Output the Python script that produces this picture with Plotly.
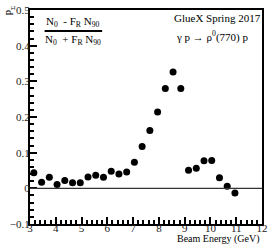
import plotly.graph_objects as go

beam_energy = [3.15, 3.45, 3.75, 4.05, 4.35, 4.65, 4.95, 5.25, 5.55, 5.85,
               6.15, 6.45, 6.75, 7.05, 7.35, 7.65, 7.95, 8.25, 8.55, 8.85,
               9.15, 9.45, 9.75, 10.05, 10.35, 10.65, 10.95]
p_sigma = [0.044, 0.017, 0.031, 0.011, 0.022, 0.016, 0.016, 0.032, 0.037, 0.031,
           0.048, 0.040, 0.046, 0.073, 0.117, 0.162, 0.214, 0.280, 0.326, 0.280,
           0.051, 0.056, 0.077, 0.078, 0.030, 0.006, -0.013]

FONT = "Liberation Serif"
W, H = 272, 244
L, R, T, B = 30, 4, 10, 20
pw, ph = W - L - R, H - T - B

def px(x):
    return (x - L) / pw

def py(y):
    return (H - B - y) / ph

fig = go.Figure()
fig.add_trace(go.Scatter(
    x=beam_energy, y=p_sigma, mode="markers",
    marker=dict(color="black", size=7),
    showlegend=False, cliponaxis=False,
))

fig.add_hline(y=0, line=dict(color="#333333", width=1.2))

axis_common = dict(
    showgrid=False, zeroline=False, showline=True, mirror=True,
    linecolor="black", linewidth=2, ticks="inside", tickcolor="black",
    tickwidth=1.5, tickfont=dict(family=FONT, size=11, color="#222"),
)

fig.update_xaxes(range=[3, 12], dtick=1, tick0=3, ticklen=7,
                 ticklabelstandoff=-7,
                 minor=dict(ticks="inside", dtick=0.2, ticklen=4, tickcolor="black"),
                 **axis_common)
fig.update_yaxes(range=[-0.1, 0.5], dtick=0.1, tick0=0, ticklen=7,
                 ticklabelstandoff=-4,
                 minor=dict(ticks="inside", dtick=0.02, ticklen=4, tickcolor="black"),
                 **axis_common)

ann_font = dict(family=FONT, size=11, color="black")
annotations = [
    dict(text="N<sub>0</sub>  - F<sub>R</sub> N<sub>90</sub>", x=px(74), y=py(22),
         xanchor="center", yanchor="middle"),
    dict(text="N<sub>0</sub>  + F<sub>R</sub> N<sub>90</sub>", x=px(74), y=py(40),
         xanchor="center", yanchor="middle"),
    dict(text="GlueX Spring 2017", x=px(176), y=py(18), xanchor="left", yanchor="middle"),
    dict(text="γ p → ρ<sup>0</sup>(770) p", x=px(178), y=py(37), xanchor="left", yanchor="middle"),
    dict(text="Beam Energy (GeV)", x=1.0, y=py(239), xanchor="right", yanchor="middle",
         font=dict(family=FONT, size=10, color="black")),
    dict(text="P<sub>Σ</sub>", x=px(9), y=py(4), xanchor="center", yanchor="top",
         textangle=-90, font=dict(family=FONT, size=10, color="black")),
]
for a in annotations:
    a.setdefault("font", ann_font)
    fig.add_annotation(xref="paper", yref="paper", showarrow=False, **a)

fig.add_shape(type="line", xref="paper", yref="paper",
              x0=px(45), x1=px(104), y0=py(31), y1=py(31),
              line=dict(color="black", width=2))

fig.update_layout(
    width=W, height=H,
    margin=dict(l=L, r=R, t=T, b=B),
    paper_bgcolor="white", plot_bgcolor="white",
    font=dict(family=FONT),
)

fig.write_html("out.html", config={"displayModeBar": False},
               post_script="document.body.style.margin='0';document.body.style.overflow='hidden';")
